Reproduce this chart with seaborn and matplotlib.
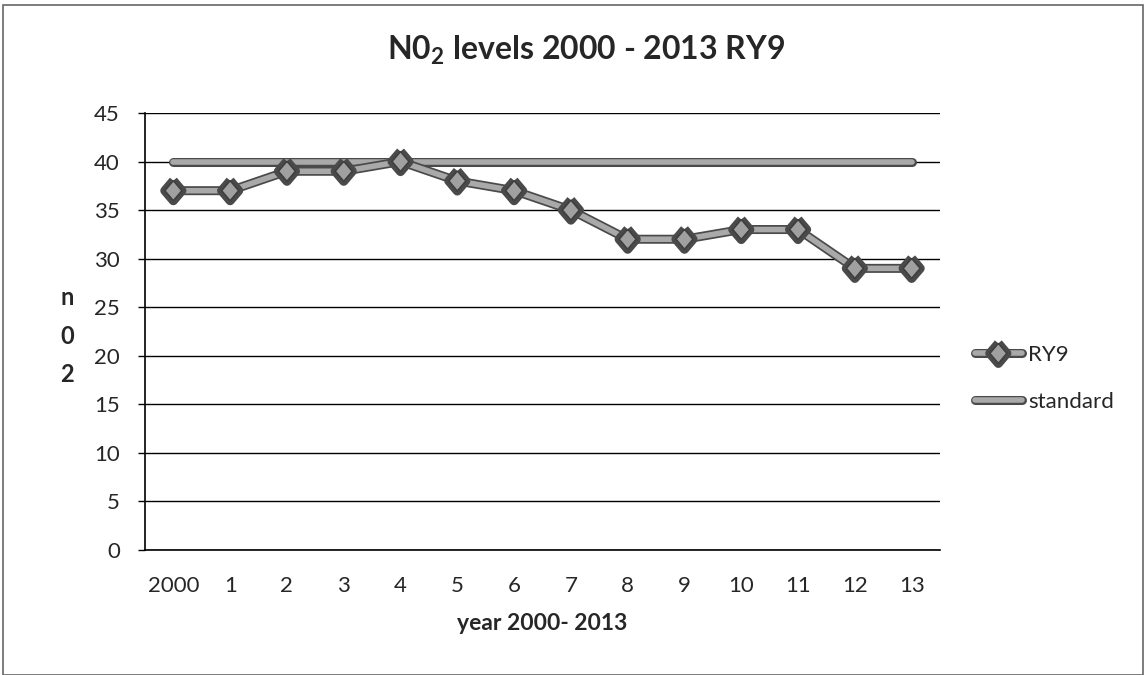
import matplotlib
matplotlib.use("Agg")
import matplotlib.pyplot as plt
import matplotlib.patheffects as pe
from matplotlib.patches import Rectangle
import numpy as np
import pandas as pd
import seaborn as sns

# data
year_labels = ["2000", "1", "2", "3", "4", "5", "6", "7", "8", "9", "10", "11", "12", "13"]
ry9_values = [37, 37, 39, 39, 40, 38, 37, 35, 32, 32, 33, 33, 29, 29]
standard_values = [40] * 14
y_ticks = [0, 5, 10, 15, 20, 25, 30, 35, 40, 45]

sns.set_style("white")
plt.rcParams["font.family"] = ["Lato", "DejaVu Sans"]
plt.rcParams["mathtext.fontset"] = "custom"
plt.rcParams["mathtext.rm"] = "Lato"
plt.rcParams["mathtext.bf"] = "Lato:bold"

df = pd.DataFrame({
    "x": list(range(len(year_labels))) * 2,
    "value": ry9_values + standard_values,
    "series": ["RY9"] * len(ry9_values) + ["standard"] * len(standard_values),
})

fig = plt.figure(figsize=(11.45, 6.75), dpi=100)
ax = fig.add_axes([0.1266, 0.1852, 0.6944, 0.6474])

# grey line with a dark rim, like the scanned excel chart
outline = [pe.Stroke(linewidth=6.5, foreground="#4a4a4a"), pe.Normal()]
tall_diamond = [(0, 1), (0.85, 0), (0, -1), (-0.85, 0), (0, 1)]

sns.lineplot(data=df[df.series == "standard"], x="x", y="value", ax=ax,
             color="#a9a9a9", linewidth=4, label="standard", path_effects=outline, zorder=3)
sns.lineplot(data=df[df.series == "RY9"], x="x", y="value", ax=ax,
             color="#a9a9a9", linewidth=4, marker=tall_diamond, markersize=14.5,
             markerfacecolor="#a0a0a0", markeredgecolor="#3f3f3f", markeredgewidth=1.2,
             label="RY9", path_effects=outline, zorder=4)

ax.set_xlim(-0.5, len(year_labels) - 0.5)
ax.set_ylim(0, 45)
ax.set_yticks(y_ticks)
ax.set_xticks(range(len(year_labels)))
ax.set_xticklabels(year_labels)
ax.set_xticks(np.arange(-0.5, len(year_labels), 1), minor=True)
ax.tick_params(axis="x", which="major", length=0, labelsize=16, pad=19)
ax.tick_params(axis="x", which="minor", length=4.5, width=1, color="black", direction="out")
ax.tick_params(axis="y", which="major", length=5, width=1, color="black", direction="out",
               labelsize=16, pad=13, left=True)
ax.yaxis.grid(True, color="black", linewidth=1)
ax.set_axisbelow(True)

for side in ["top", "right"]:
    ax.spines[side].set_visible(False)
for side in ["left", "bottom"]:
    ax.spines[side].set_color("black")
    ax.spines[side].set_linewidth(1.2)

ax.set_xlabel("year 2000- 2013", fontsize=16.5, fontweight="bold", labelpad=12)
ax.set_ylabel("")
fig.text(67 / 1145, 1 - 336 / 675, "n\n0\n2", fontsize=17, fontweight="bold",
         ha="center", va="center", linespacing=1.8)

fig.suptitle(r"N0$_\mathbf{2}$ levels 2000 - 2013 RY9", x=0.512, y=1 - 50 / 675,
             va="center", fontsize=23, fontweight="bold")

handles, labels = ax.get_legend_handles_labels()
order = [labels.index("RY9"), labels.index("standard")]
ax.legend([handles[i] for i in order], [labels[i] for i in order],
          loc="center left", bbox_to_anchor=(975 / 1145, 1 - 378.5 / 675),
          bbox_transform=fig.transFigure, frameon=False, borderpad=0, borderaxespad=0,
          fontsize=16, handlelength=2.1, handletextpad=0.3, labelspacing=1.2)

fig.patches.append(Rectangle((0.003, 0.0), 0.995, 0.993, transform=fig.transFigure,
                             fill=False, edgecolor="#666666", linewidth=1.2))

fig.savefig("out.png", dpi=100, facecolor="white")
